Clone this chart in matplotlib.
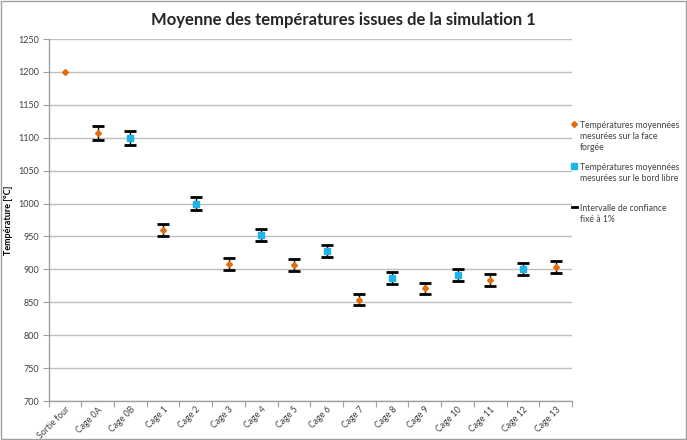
import matplotlib
matplotlib.use("Agg")
import matplotlib.pyplot as plt
from matplotlib.lines import Line2D
from matplotlib.offsetbox import HPacker, VPacker
import numpy as np

plt.rcParams['font.family'] = ['Lato', 'DejaVu Sans']

categories = ["Sortie four", "Cage 0A", "Cage 0B", "Cage 1", "Cage 2", "Cage 3", "Cage 4",
              "Cage 5", "Cage 6", "Cage 7", "Cage 8", "Cage 9", "Cage 10", "Cage 11",
              "Cage 12", "Cage 13"]
# Face forgée (orange) values, None where absent
face_forgee = [1200, 1107, None, 960, None, 908, None, 906, None, 854, None, 871, None, 884, None, 903]
# Bord libre (blue) values
bord_libre = [None, None, 1100, None, 1000, None, 952, None, 928, None, 887, None, 892, None, 900, None]
# error bars: 1% interval (not on Sortie four)
has_err = [False] + [True] * 15
err_pct = 0.01

orange = '#E46C0A'
blue = '#1EB4E8'

fig = plt.figure(figsize=(6.87, 4.40), dpi=100)
ax = fig.add_axes([0.0707, 0.0886, 0.762, 0.8227])

x = np.arange(len(categories))
mean = [f if f is not None else b for f, b in zip(face_forgee, bord_libre)]

# error bars
ex = [xi for xi, h in zip(x, has_err) if h]
ey = [m for m, h in zip(mean, has_err) if h]
ee = [m * err_pct for m, h in zip(mean, has_err) if h]
ax.errorbar(ex, ey, yerr=ee, fmt='none', ecolor='black', elinewidth=1.0,
            capsize=4.5, capthick=2.0, zorder=3)

fx = [xi for xi, v in zip(x, face_forgee) if v is not None]
fy = [v for v in face_forgee if v is not None]
bx = [xi for xi, v in zip(x, bord_libre) if v is not None]
by = [v for v in bord_libre if v is not None]
ax.plot(fx, fy, linestyle='none', marker='D', markersize=3.0, color=orange, zorder=4)
ax.plot(bx, by, linestyle='none', marker='s', markersize=4.2, color=blue, zorder=4)

ax.set_xlim(-0.5, len(categories) - 0.5)
ax.set_ylim(700, 1250)
ax.set_yticks(np.arange(700, 1251, 50))
ax.yaxis.grid(True, color='#BFBFBF', linewidth=1.0)
ax.set_axisbelow(True)

ax.set_xticks(np.arange(-0.5, len(categories), 1.0))
ax.set_xticklabels([])
ax.set_xticks(x, minor=True)
ax.set_xticklabels(categories, minor=True, rotation=45, ha='right',
                   rotation_mode='anchor', fontsize=6.3, color='#404040')
ax.tick_params(axis='x', which='minor', length=0, pad=3)
ax.tick_params(axis='x', which='major', length=4, color='#A0A0A0', direction='out')
ax.tick_params(axis='y', length=4, color='#A0A0A0', labelsize=6.5, labelcolor='#404040', pad=3)

for s in ['top', 'right']:
    ax.spines[s].set_visible(False)
for s in ['left', 'bottom']:
    ax.spines[s].set_color('#A0A0A0')
    ax.spines[s].set_linewidth(1.0)

ax.set_ylabel("Température [°C]", fontsize=6.5, fontweight='bold')
ax.yaxis.set_label_coords(-0.068, 0.5)
fig.text(0.5, 0.955, "Moyenne des températures issues de la simulation 1",
         ha='center', va='center', fontsize=12, fontweight='bold', color='#262626')

handles = [
    Line2D([], [], linestyle='none', marker='D', markersize=3.0, color=orange),
    Line2D([], [], linestyle='none', marker='s', markersize=4.2, color=blue),
    Line2D([], [], color='black', linewidth=2),
]
labels = ["Températures moyennées\nmesurées sur la face\nforgée",
          "Températures moyennées\nmesurées sur le bord libre\n ",
          "Intervalle de confiance\nfixé à 1%\n "]
leg = fig.legend(handles, labels, loc='upper left', bbox_to_anchor=(0.832, 0.725),
                 frameon=False, fontsize=6.2, handlelength=0.6, handletextpad=0.35,
                 labelspacing=1.2, borderaxespad=0, borderpad=0)
for t in leg.get_texts():
    t.set_color('#404040')
    t.set_linespacing(1.3)


def _set_top(box):
    for c in box.get_children():
        if isinstance(c, HPacker):
            c.align = 'top'
        if isinstance(c, (HPacker, VPacker)):
            _set_top(c)


_set_top(leg._legend_handle_box)

# chart border
fig.patches.append(plt.Rectangle((0.002, 0.002), 0.996, 0.996, transform=fig.transFigure,
                                 fill=False, edgecolor='#A0A0A0', linewidth=1.0))

fig.savefig("out.png", dpi=100)
